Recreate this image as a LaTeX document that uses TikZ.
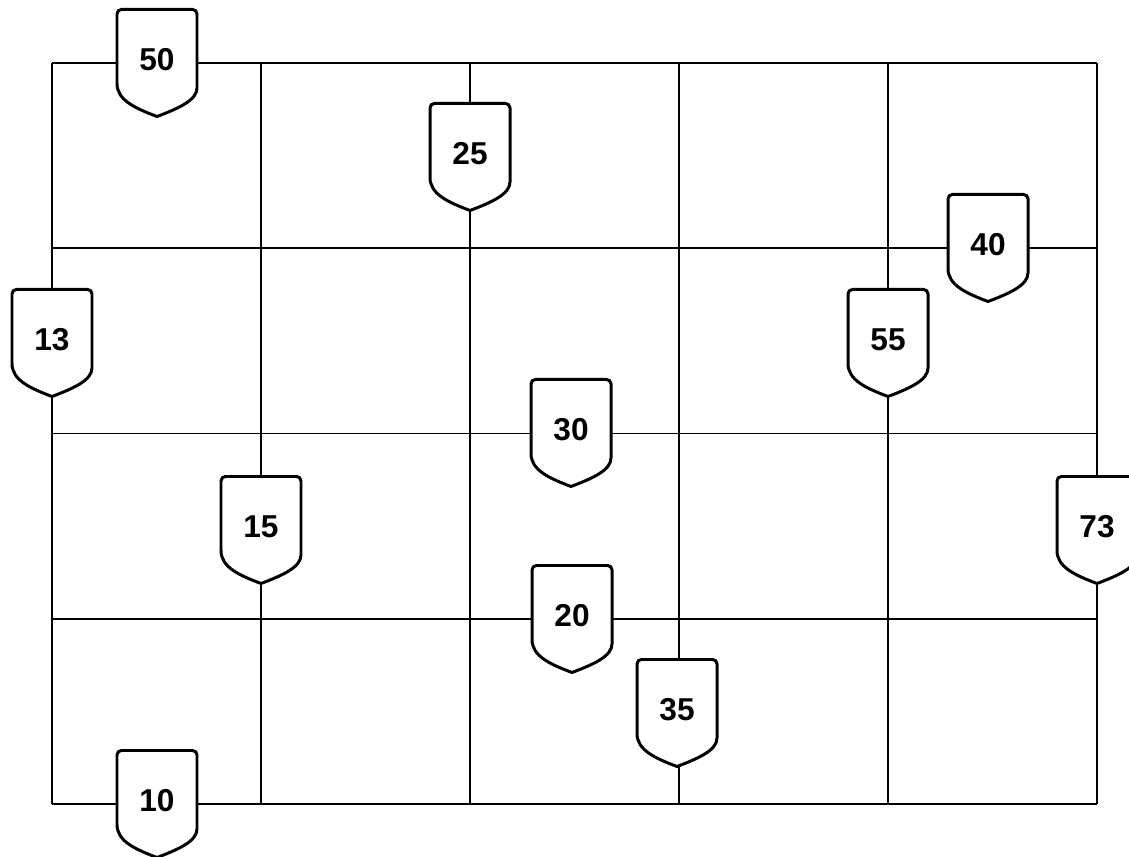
\documentclass[tikz,border=0pt]{standalone}
\usepackage{fontspec}
\setmainfont{Liberation Sans}
\tikzset{
  gridline/.style={line width=0.95pt, black},
  shieldline/.style={line width=1.7pt, black, fill=white, line join=miter},
  shieldlabel/.style={font=\fontsize{18}{21}\selectfont\bfseries, inner sep=0pt}
}
% one shield, centred at #1, carrying the value #2
\newcommand{\shieldat}[2]{%
  \begin{scope}[shift={(#1)}]
    \draw[shieldline] (0,-1.07) .. controls (-0.45,-0.9) and (-0.8,-0.74) .. (-0.8,-0.41)
      [rounded corners=2.5pt] -- (-0.8,1.07) -- (0.8,1.07) -- (0.8,-0.41) [sharp corners]
      .. controls (0.8,-0.74) and (0.45,-0.9) .. (0,-1.07) -- cycle;
    \node[shieldlabel] (s#2) at (0,0.06) {#2};
  \end{scope}}
\begin{document}
\begin{tikzpicture}
    \useasboundingbox (0,0) rectangle (22.58,17.12);

    % Grid: 5 columns, 4 rows
    \foreach \x in {1.04,5.22,9.40,13.58,17.76,21.94}
      \draw[gridline] (\x,1.04) -- (\x,15.86);
    \foreach \y in {1.04,4.745,8.45,12.155,15.86}
      \draw[gridline] (1.04,\y) -- (21.94,\y);

    % Shields on the lines
    \shieldat{3.14,15.86}{50}
    \shieldat{9.40,13.98}{25}
    \shieldat{19.76,12.16}{40}
    \shieldat{1.04,10.26}{13}
    \shieldat{17.76,10.26}{55}
    \shieldat{11.42,8.46}{30}
    \shieldat{5.22,6.52}{15}
    \shieldat{21.94,6.52}{73}
    \shieldat{11.44,4.74}{20}
    \shieldat{13.54,2.86}{35}
    \shieldat{3.14,1.04}{10}
\end{tikzpicture}
\end{document}
